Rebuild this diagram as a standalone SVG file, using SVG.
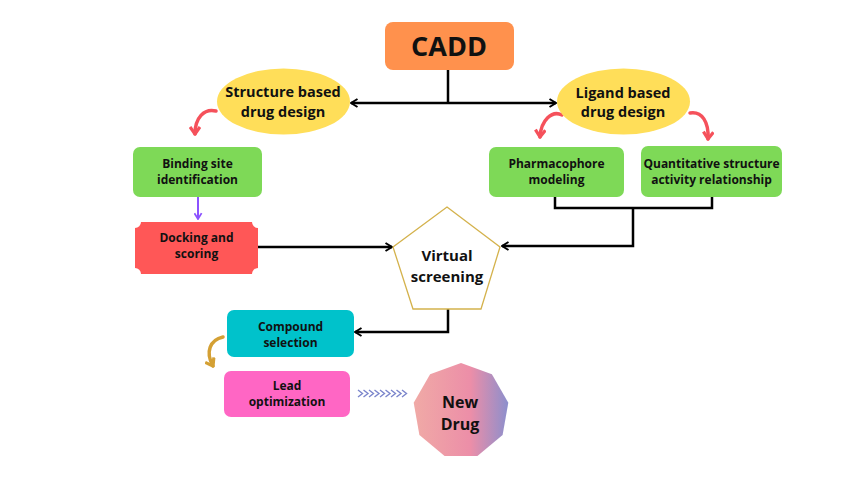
<svg xmlns="http://www.w3.org/2000/svg" width="850" height="478" viewBox="0 0 850 478">
<style>
  .t { font-family: "Open Sans", "Noto Sans", "DejaVu Sans", sans-serif; font-weight: 700; fill: #111; text-anchor: middle; }
  .s12 { font-size: 12px; }
  .s14 { font-size: 14.5px; }
  .s15 { font-size: 15px; }
  .s16 { font-size: 16px; }
  .conn { fill: none; stroke: #000; stroke-width: 2.5; }
  .curve-red { fill: none; stroke: #F5515B; stroke-width: 3.5; stroke-linecap: round; }
  .curve-gold { fill: none; stroke: #D4A034; stroke-width: 3.5; stroke-linecap: round; }
</style>
<defs>
  <marker id="ah" viewBox="0 0 10 10" refX="8.5" refY="5" markerWidth="10" markerHeight="10" markerUnits="userSpaceOnUse" orient="auto-start-reverse">
    <path d="M2,1 L8.5,5 L2,9" fill="none" stroke="#000" stroke-width="2"/>
  </marker>
  <marker id="ahPurple" viewBox="0 0 10 10" refX="8.5" refY="5" markerWidth="9" markerHeight="9" markerUnits="userSpaceOnUse" orient="auto">
    <path d="M2,1 L8.5,5 L2,9" fill="none" stroke="#8C52FF" stroke-width="2"/>
  </marker>
  <marker id="ahRed" viewBox="0 0 12 12" refX="9" refY="6" markerWidth="12" markerHeight="12" markerUnits="userSpaceOnUse" orient="auto">
    <path d="M2,1 L9,6 L2,11" fill="none" stroke="#F5515B" stroke-width="3.2" stroke-linejoin="round"/>
  </marker>
  <marker id="ahGold" viewBox="0 0 12 12" refX="9" refY="6" markerWidth="12" markerHeight="12" markerUnits="userSpaceOnUse" orient="auto">
    <path d="M2,1 L9,6 L2,11" fill="none" stroke="#D4A034" stroke-width="3.2" stroke-linejoin="round"/>
  </marker>
  <linearGradient id="drugGrad" x1="0" y1="0" x2="1" y2="0">
    <stop offset="0" stop-color="#F0AAA6"/>
    <stop offset="0.6" stop-color="#EC8EA8"/>
    <stop offset="1" stop-color="#8B8FCD"/>
  </linearGradient>
</defs>
<rect width="850" height="478" fill="#fff"/>

<g id="connectors">
  <path class="conn" d="M448,70 V103"/>
  <path class="conn" d="M351,103 H556" marker-start="url(#ah)" marker-end="url(#ah)"/>
  <path class="curve-red" d="M216,111 C204,108 195,118 195,134" marker-end="url(#ahRed)"/>
  <path class="curve-red" d="M562,115 C552,110 541,120 540,137" marker-end="url(#ahRed)"/>
  <path class="curve-red" d="M690,113 C702,111 709,122 708,139" marker-end="url(#ahRed)"/>
  <path d="M198,197 V219" fill="none" stroke="#8C52FF" stroke-width="2" marker-end="url(#ahPurple)"/>
  <path class="conn" d="M258,247 H392" marker-end="url(#ah)"/>
  <path class="conn" d="M555,197 V208 H712 V197"/>
  <path class="conn" d="M633,208 V246 H502" marker-end="url(#ah)"/>
  <path class="conn" d="M448,309 V332 H355" marker-end="url(#ah)"/>
  <path class="curve-gold" d="M223,337 C210,340 205,352 213,366" marker-end="url(#ahGold)"/>
  <path d="M358,390 l4.5,3.5 l-4.5,3.5 M363.5,390 l4.5,3.5 l-4.5,3.5 M369,390 l4.5,3.5 l-4.5,3.5 M374.5,390 l4.5,3.5 l-4.5,3.5 M380,390 l4.5,3.5 l-4.5,3.5 M385.5,390 l4.5,3.5 l-4.5,3.5 M391,390 l4.5,3.5 l-4.5,3.5 M396.5,390 l4.5,3.5 l-4.5,3.5 M402,390 l4.5,3.5 l-4.5,3.5" fill="none" stroke="#7C86CC" stroke-width="1.4"/>
</g>

<g id="cadd">
  <rect x="385" y="22" width="129" height="48" rx="8" fill="#FF914D"/>
  <text class="t" x="449" y="56" font-size="27">CADD</text>
</g>

<g id="structure-based">
  <ellipse cx="283.5" cy="101.5" rx="66.5" ry="33" fill="#FFDE59"/>
  <text class="t s14" x="283" y="97">Structure based</text>
  <text class="t s14" x="283" y="117">drug design</text>
</g>

<g id="ligand-based">
  <ellipse cx="623.5" cy="101.5" rx="66.5" ry="33" fill="#FFDE59"/>
  <text class="t s14" x="623" y="98">Ligand based</text>
  <text class="t s14" x="623" y="117">drug design</text>
</g>

<g id="binding-site">
  <rect x="133" y="147" width="129" height="50" rx="7" fill="#7ED957"/>
  <text class="t s12" x="197.5" y="168">Binding site</text>
  <text class="t s12" x="197.5" y="184">identification</text>
</g>

<g id="pharmacophore">
  <rect x="489" y="147" width="135" height="50" rx="7" fill="#7ED957"/>
  <text class="t s12" x="556.5" y="168">Pharmacophore</text>
  <text class="t s12" x="556.5" y="184">modeling</text>
</g>

<g id="qsar">
  <rect x="641" y="146" width="141" height="51" rx="7" fill="#7ED957"/>
  <text class="t s12" x="711.5" y="168">Quantitative structure</text>
  <text class="t s12" x="711.5" y="184">activity relationship</text>
</g>

<g id="docking">
  <path d="M141,222 H252 A6,6 0 0 0 258,228 V268 A6,6 0 0 0 252,274 H141 A6,6 0 0 0 135,268 V228 A6,6 0 0 0 141,222 Z" fill="#FF5757"/>
  <text class="t s12" x="196.5" y="241.5">Docking and</text>
  <text class="t s12" x="196.5" y="258">scoring</text>
</g>

<g id="virtual-screening">
  <polygon points="447,207 500,247 481,309 413,309 393,247" fill="#fff" stroke="#D4B24C" stroke-width="1.3"/>
  <text class="t s15" x="447" y="260.5">Virtual</text>
  <text class="t s15" x="447" y="281.5">screening</text>
</g>

<g id="compound-selection">
  <rect x="227" y="310" width="127" height="47" rx="7" fill="#00C2CB"/>
  <text class="t s12" x="290.5" y="330.5">Compound</text>
  <text class="t s12" x="290.5" y="346.5">selection</text>
</g>

<g id="lead-optimization">
  <rect x="224" y="371" width="126" height="46" rx="7" fill="#FF66C4"/>
  <text class="t s12" x="287" y="389.5">Lead</text>
  <text class="t s12" x="287" y="405.5">optimization</text>
</g>

<g id="new-drug">
  <polygon points="461,363 491.9,374.2 508.3,402.7 502.6,435 477.4,456.1 444.6,456.1 419.4,435 413.7,402.7 430.1,374.2" fill="url(#drugGrad)"/>
  <text class="t s16" x="460" y="408">New</text>
  <text class="t s16" x="460" y="430">Drug</text>
</g>
</svg>
